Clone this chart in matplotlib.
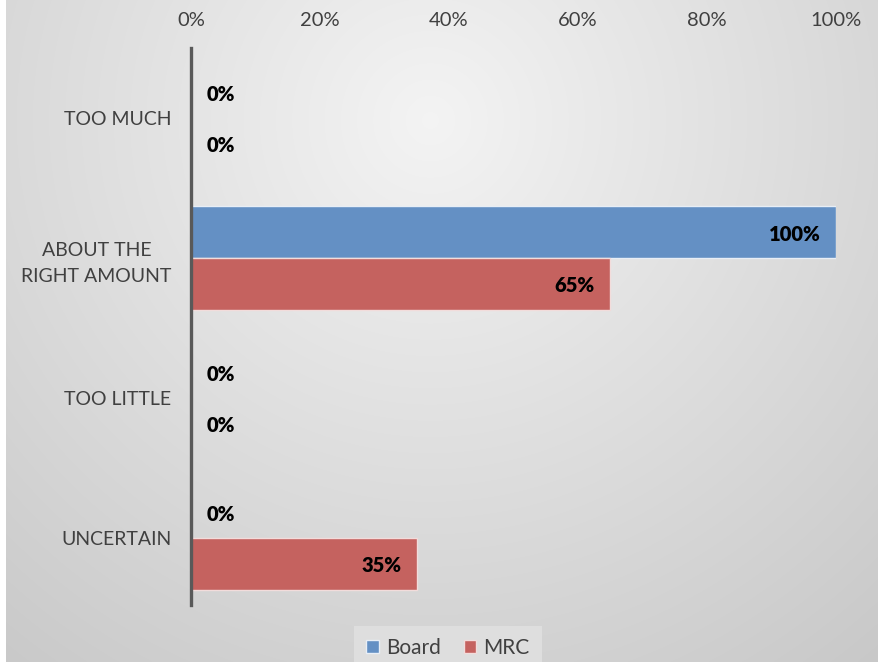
import matplotlib.pyplot as plt
import numpy as np
from matplotlib.patches import Patch

categories = ["TOO MUCH", "ABOUT THE\nRIGHT AMOUNT", "TOO LITTLE", "UNCERTAIN"]
board = [0, 100, 0, 0]
mrc = [0, 65, 0, 35]
xticks = [0, 20, 40, 60, 80, 100]

BOARD_COLOR = "#6490c4"
MRC_COLOR = "#c5625f"
TEXT_COLOR = "#404040"
FONT = ["Lato", "DejaVu Sans"]

plt.rcParams["font.family"] = FONT

fig = plt.figure(figsize=(8.82, 6.62), dpi=100)

# radial grey backdrop behind the chart
bg = fig.add_axes([0, 0, 1, 1], zorder=-10)
h, w = 662, 882
yy, xx = np.mgrid[0:h, 0:w]
dist = np.sqrt(((xx - 430) / 620.0) ** 2 + ((yy - 120) / 620.0) ** 2)
shade = 0.955 - 0.15 * np.clip(dist, 0, 1.2)
img = np.dstack([shade, shade, shade])
img[:, :6] = 1.0
img[:, 878:] = 1.0
bg.imshow(img, aspect="auto", extent=[0, 1, 0, 1], origin="upper")
bg.set_axis_off()

ax = fig.add_axes([191 / 882, 1 - 608 / 662, 645 / 882, 560 / 662])
ax.patch.set_alpha(0)

y = np.arange(len(categories))
bar_h = 0.37
off = 0.185

ax.barh(y - off, board, height=bar_h, color=BOARD_COLOR,
        edgecolor="#e8eef6", linewidth=1.0, label="Board")
ax.barh(y + off, mrc, height=bar_h, color=MRC_COLOR,
        edgecolor="#f2dcdb", linewidth=1.0, label="MRC")

for vals, dy in ((board, -off), (mrc, off)):
    for i, v in enumerate(vals):
        if v > 0:
            ax.annotate(f"{v}%", (v, i + dy), xytext=(-11, -1.5),
                        textcoords="offset points", ha="right", va="center",
                        fontsize=14.5, fontweight="heavy", color="black")
        else:
            ax.annotate(f"{v}%", (0, i + dy), xytext=(11, -1.5),
                        textcoords="offset points", ha="left", va="center",
                        fontsize=14.5, fontweight="heavy", color="black")

ax.set_xlim(0, 100)
ax.set_ylim(len(categories) - 0.5, -0.5)
ax.set_xticks(xticks)
ax.set_xticklabels([f"{t}%" for t in xticks])
ax.xaxis.tick_top()
ax.set_yticks(y)
ax.set_yticklabels(categories, linespacing=1.6, multialignment="center")
ax.tick_params(axis="both", length=0, colors=TEXT_COLOR, labelsize=14.5)
ax.tick_params(axis="y", labelsize=14)
ax.tick_params(axis="x", pad=14)
ax.tick_params(axis="y", pad=14)

for side in ("top", "right", "bottom"):
    ax.spines[side].set_visible(False)
ax.spines["left"].set_color("#595959")
ax.spines["left"].set_linewidth(2.4)
ax.spines["left"].set_bounds(-0.5, 3.48)

handles = [
    Patch(facecolor=BOARD_COLOR, edgecolor="#e8eef6", label="Board"),
    Patch(facecolor=MRC_COLOR, edgecolor="#f2dcdb", label="MRC"),
]
leg = fig.legend(handles=handles, loc="center", ncol=2,
                 bbox_to_anchor=(448 / 882, 1 - 648 / 662),
                 frameon=True, fancybox=False, fontsize=15,
                 handlelength=0.6, handleheight=0.6, handletextpad=0.35,
                 columnspacing=1.1, borderpad=0.6, labelcolor=TEXT_COLOR)
leg.get_frame().set_facecolor("#dedede")
leg.get_frame().set_edgecolor("none")
leg.get_frame().set_alpha(1)

fig.savefig("out.png", dpi=100)
